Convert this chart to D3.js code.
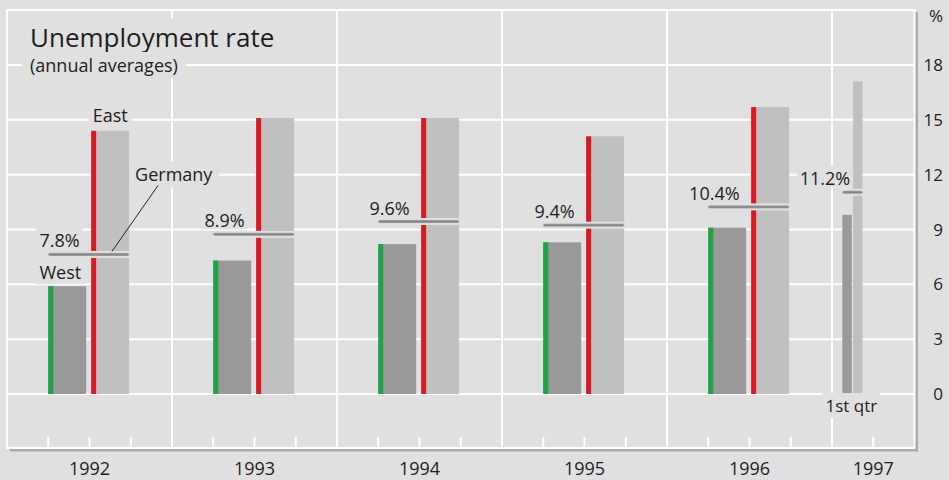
<!DOCTYPE html>
<html>
<head>
<meta charset="utf-8">
<script src="https://cdn.jsdelivr.net/npm/d3@7"></script>
<style>
  body { margin: 0; background: #e0e0e0; }
  svg { display: block; font-family: "Open Sans", sans-serif; }
</style>
</head>
<body>
<svg id="chart"></svg>
<script>
const years = ["1992", "1993", "1994", "1995", "1996", "1997"];
const periodLength = [1, 1, 1, 1, 1, 0.25]; // 1997 = 1st quarter only
const west = [5.9, 7.3, 8.2, 8.3, 9.1, 9.8];
const east = [14.4, 15.1, 15.1, 14.1, 15.7, 17.1];
const germany = [7.8, 8.9, 9.6, 9.4, 10.4, 11.2];
const yTicks = [0, 3, 6, 9, 12, 15, 18];

const width = 949;
const height = 480;
const bg = "#e0e0e0";
const textColor = "#1e1e1e";

const svg = d3.select("#chart")
    .attr("width", width)
    .attr("height", height);

const x = d3.scaleLinear().domain([1992, 1997.5]).range([7, 914.5]);
const y = d3.scaleLinear().domain([0, 18]).range([394, 65]);
const frameTop = 10;
const frameBottom = 448;

svg.append("rect").attr("width", width).attr("height", height).attr("fill", bg);

// shadow on right and bottom
svg.append("line")
    .attr("x1", 10).attr("x2", x.range()[1] + 3.5)
    .attr("y1", frameBottom + 2).attr("y2", frameBottom + 2)
    .attr("stroke", "#ababab").attr("stroke-width", 3);
svg.append("line")
    .attr("x1", x.range()[1] + 2).attr("x2", x.range()[1] + 2)
    .attr("y1", frameTop + 2).attr("y2", frameBottom + 3.5)
    .attr("stroke", "#ababab").attr("stroke-width", 3);

// frame
svg.append("rect")
    .attr("x", x.range()[0]).attr("y", frameTop)
    .attr("width", x.range()[1] - x.range()[0])
    .attr("height", frameBottom - frameTop)
    .attr("fill", "none").attr("stroke", "#fff").attr("stroke-width", 2);

// horizontal grid
svg.append("g").selectAll("line")
    .data(yTicks)
    .join("line")
    .attr("x1", x.range()[0]).attr("x2", x.range()[1])
    .attr("y1", d => y(d)).attr("y2", d => y(d))
    .attr("stroke", "#fff").attr("stroke-width", 2);

// vertical year dividers
const starts = years.map(d => +d);
svg.append("g").selectAll("line")
    .data(starts.slice(1))
    .join("line")
    .attr("x1", d => x(d)).attr("x2", d => x(d))
    .attr("y1", frameTop).attr("y2", frameBottom)
    .attr("stroke", "#fff").attr("stroke-width", 2);

// quarter ticks along the bottom
const qTicks = [];
starts.forEach(s => [0.25, 0.5, 0.75].forEach(q => {
    if (s + q < x.domain()[1]) qTicks.push(s + q);
}));
svg.append("g").selectAll("line")
    .data(qTicks)
    .join("line")
    .attr("x1", d => x(d)).attr("x2", d => x(d))
    .attr("y1", frameBottom - 11).attr("y2", frameBottom)
    .attr("stroke", "#fff").attr("stroke-width", 2);

// right axis labels
const axis = svg.append("g").attr("fill", textColor).attr("font-size", 17).attr("text-anchor", "end");
axis.selectAll("text")
    .data(yTicks)
    .join("text")
    .attr("x", 943)
    .attr("y", d => y(d) + 6)
    .text(d => d);
axis.append("text").attr("x", 943).attr("y", 22).text("%");

// year labels
svg.append("g").selectAll("text")
    .data(years)
    .join("text")
    .attr("x", (d, i) => x(starts[i] + (periodLength[i] < 1 ? periodLength[i] : 0.5)))
    .attr("y", 475)
    .attr("text-anchor", "middle")
    .attr("font-size", 18)
    .attr("fill", textColor)
    .text(d => d);

// bars
const rows = years.map((d, i) => {
    const s = starts[i], len = periodLength[i];
    return {
        year: d, full: len === 1,
        wx0: x(s + len * 0.25), wx1: x(s + len * 0.48),
        ex0: x(s + len * 0.51), ex1: x(s + len * 0.74),
        west: west[i], east: east[i], germany: germany[i],
        labelX: x(s + len * 0.44)
    };
});

const bars = svg.append("g");
rows.forEach(r => {
    bars.append("rect")
        .attr("x", r.wx0).attr("y", y(r.west))
        .attr("width", r.wx1 - r.wx0).attr("height", y(0) - y(r.west))
        .attr("fill", "#999999");
    bars.append("rect")
        .attr("x", r.ex0).attr("y", y(r.east))
        .attr("width", r.ex1 - r.ex0).attr("height", y(0) - y(r.east))
        .attr("fill", "#c0c0c0");
    if (r.full) {
        bars.append("rect")
            .attr("x", r.wx0).attr("y", y(r.west))
            .attr("width", 5).attr("height", y(0) - y(r.west))
            .attr("fill", "#1fa347");
        bars.append("rect")
            .attr("x", r.ex0).attr("y", y(r.east))
            .attr("width", 5).attr("height", y(0) - y(r.east))
            .attr("fill", "#d91a22");
    }
});

// Germany markers
const markers = svg.append("g");
rows.forEach(r => {
    markers.append("rect")
        .attr("x", r.wx0).attr("y", y(r.germany) + 0.5)
        .attr("width", r.ex1 - r.wx0).attr("height", 5)
        .attr("fill", "#9c9c9c")
        .attr("stroke", bg).attr("stroke-width", 2);
    markers.append("line")
        .attr("x1", r.wx0).attr("x2", r.ex1)
        .attr("y1", y(r.germany) + 3).attr("y2", y(r.germany) + 3)
        .attr("stroke", "#878787").attr("stroke-width", 1.5);
});

// labels with background boxes that hide the grid
const labels = svg.append("g").attr("fill", textColor);
function label(txt, lx, ly, anchor, size, pad, below) {
    const g = labels.append("g");
    const t = g.append("text")
        .attr("x", lx).attr("y", ly)
        .attr("text-anchor", anchor)
        .attr("font-size", size)
        .text(txt);
    const b = t.node().getBBox();
    const bottom = below == null ? b.y + b.height + 1 : ly + below;
    g.insert("rect", "text")
        .attr("x", b.x - pad).attr("y", b.y - 1)
        .attr("width", b.width + pad * 2).attr("height", bottom - b.y + 1)
        .attr("fill", bg);
    return t;
}

rows.forEach(r => {
    label(d3.format(".1f")(r.germany) + "%", r.labelX, y(r.germany) - 4, "end", 18, 3, 2);
});

const r0 = rows[0];
label("East", (r0.ex0 + r0.ex1) / 2, y(r0.east) - 9, "middle", 18, 4);
label("West", r0.wx1 - 5, y(r0.west) - 7, "end", 18, 4, 5);
const gx = r0.ex1 + 6, gy = y(r0.germany) - 70;
label("Germany", gx, gy, "start", 18, 6);
svg.append("line")
    .attr("x1", gx + 23).attr("y1", gy + 4)
    .attr("x2", x(1992.636)).attr("y2", y(r0.germany))
    .attr("stroke", "#111").attr("stroke-width", 0.9);

const r5 = rows[5];
label("1st qtr", (r5.wx0 + r5.ex1) / 2 - 1, y(0) + 18, "middle", 17, 3);

// title
label("Unemployment rate", 30, 47, "start", 26, 8);
label("(annual averages)", 30, 72, "start", 18, 8);
</script>
</body>
</html>
